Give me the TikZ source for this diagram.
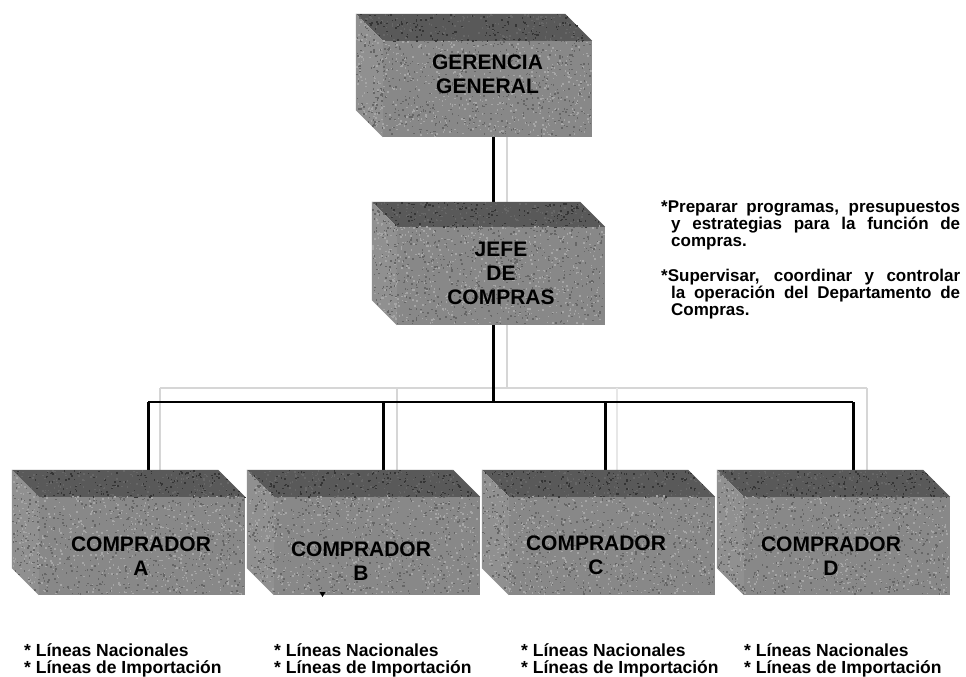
\documentclass[tikz,border=0pt]{standalone}
\usepackage{fontspec}
\setmainfont{Liberation Sans}
\usetikzlibrary{calc}
\pgfdeclarelayer{back}
\pgfsetlayers{back,main}

\definecolor{frontgray}{HTML}{888888}
\definecolor{topgray}{HTML}{595959}
\definecolor{sidegray}{HTML}{909090}
\definecolor{ghostgray}{HTML}{D6D6D6}
\definecolor{speckdark}{HTML}{666666}
\definecolor{specklight}{HTML}{A6A6A6}

% top and left faces of a block, behind the front face node #1, depth #2
\newcommand\blockfaces[2]{%
  \fill[topgray] (#1.north west) -- (#1.north east) -- ++(-#2,-#2)
    -- ($(#1.north west)+(-#2,-#2)$) -- cycle;
  \fill[sidegray] (#1.north west) -- ++(-#2,-#2)
    -- ($(#1.south west)+(-#2,-#2)$) -- (#1.south west) -- cycle;}

% granite-like grain on the faces of block #1 (front width #2, height #3, depth #4)
\newcommand\blockgrain[4]{%
  \foreach \k in {1,...,520}{%
    \fill[speckdark] ($(#1.north west)+(rnd*#2-1.5,rnd*#3-1.5)$) rectangle ++(1.5,1.5);
    \fill[specklight] ($(#1.north west)+(rnd*#2-1.5,rnd*#3-1.5)$) rectangle ++(1.5,1.5);}
  \foreach \k in {1,...,160}{%
    \pgfmathsetmacro\vv{rnd}%
    \fill[topgray!70!frontgray] ($(#1.north west)+(rnd*#2-\vv*#4,-\vv*#4)$) rectangle ++(1.5,1.5);
    \pgfmathsetmacro\vv{rnd}%
    \fill[topgray!60!black] ($(#1.north west)+(rnd*#2-\vv*#4,-\vv*#4)$) rectangle ++(1.5,1.5);}
  \foreach \k in {1,...,90}{%
    \pgfmathsetmacro\vv{rnd}%
    \fill[speckdark] ($(#1.north west)+(-\vv*#4+0.5,-\vv*#4+rnd*#3)$) rectangle ++(1.5,1.5);
    \pgfmathsetmacro\vv{rnd}%
    \fill[specklight] ($(#1.north west)+(-\vv*#4+0.5,-\vv*#4+rnd*#3)$) rectangle ++(1.5,1.5);}}

\tikzset{
  frontbox/.style={fill=frontgray, inner sep=0pt, minimum width=206pt, minimum height=98pt},
  boxlabel/.style={inner sep=0pt, anchor=base, font=\fontsize{21}{24}\selectfont\bfseries},
  notetext/.style={inner sep=0pt, anchor=base west, font=\fontsize{17}{17}\selectfont\bfseries},
  itemtext/.style={inner sep=0pt, anchor=base west, font=\fontsize{17.5}{17}\selectfont\bfseries},
  conn/.style={line width=3pt, black},
  busline/.style={line width=2pt, black},
  ghost/.style={line width=1.5pt, ghostgray}
}

\begin{document}
\begin{tikzpicture}[x=1pt, y=-1pt]
\pgfmathsetseed{4711}
\useasboundingbox (0,0) rectangle (966,677);

% front faces of the blocks
\node[frontbox, minimum width=209pt, minimum height=96pt] (ger) at (487.5,89) {};
\node[frontbox, minimum width=208pt] (jefe) at (501,276) {};
\node[frontbox] (ca) at (142,546) {};
\node[frontbox] (cb) at (377,546) {};
\node[frontbox] (cc) at (612,546) {};
\node[frontbox] (cd) at (847,546) {};

% top and side faces
\blockfaces{ger}{27}
\blockfaces{jefe}{25}
\blockfaces{ca}{27}
\blockfaces{cb}{27}
\blockfaces{cc}{27}
\blockfaces{cd}{27}

% surface grain
\blockgrain{ger}{209}{96}{27}
\blockgrain{jefe}{208}{98}{25}
\blockgrain{ca}{206}{98}{27}
\blockgrain{cb}{206}{98}{27}
\blockgrain{cc}{206}{98}{27}
\blockgrain{cd}{206}{98}{27}

% connector points on the bus
\coordinate (bus) at (493,402);
\coordinate (da) at (148,402);
\coordinate (db) at (383,402);
\coordinate (dc) at (605,402);
\coordinate (dd) at (853,402);
\coordinate (gbus) at (507,388);
\coordinate (ga) at (160,388);
\coordinate (gb) at (397,388);
\coordinate (gc) at (617,388);
\coordinate (gd) at (867,388);

\begin{pgfonlayer}{back}
  \fill[white] (0,0) rectangle (966,677);
  % faint offset copy of the connectors
  \draw[ghost] (gbus |- ger.south) -- (gbus |- jefe.north);
  \draw[ghost] (gbus |- jefe.south) -- (gbus);
  \draw[ghost] (ga) -- (gd);
  \draw[ghost] (ga) -- (ga |- ca.north);
  \draw[ghost] (gb) -- (gb |- cb.north);
  \draw[ghost, ghostgray!60] (gc) -- (gc |- cc.north);
  \draw[ghost] (gd) -- (gd |- cd.north);
  % connectors
  \draw[conn] (bus |- ger.south) -- (bus |- jefe.north);
  \draw[conn] (bus |- jefe.south) -- (bus);
  \draw[busline] (da) -- (dd);
  \draw[conn] (da) -- (da |- ca.north);
  \draw[conn] (db) -- (db |- cb.north);
  \draw[conn] (dc) -- (dc |- cc.north);
  \draw[conn] (dd) -- (dd |- cd.north);
\end{pgfonlayer}

% block labels
\node[boxlabel] (ger-l) at (487.5,70) {\begin{tabular}[t]{@{}c@{}}GERENCIA\\GENERAL\end{tabular}};
\node[boxlabel] (jefe-l) at (501,256.5) {\begin{tabular}[t]{@{}c@{}}JEFE\\DE\\COMPRAS\end{tabular}};
\node[boxlabel] (ca-l) at (141,551.5) {\begin{tabular}[t]{@{}c@{}}COMPRADOR\\A\end{tabular}};
\node[boxlabel] (cb-l) at (361,556.5) {\begin{tabular}[t]{@{}c@{}}COMPRADOR\\B\end{tabular}};
\node[boxlabel] (cc-l) at (596,550.5) {\begin{tabular}[t]{@{}c@{}}COMPRADOR\\C\end{tabular}};
\node[boxlabel] (cd-l) at (831,551) {\begin{tabular}[t]{@{}c@{}}COMPRADOR\\D\end{tabular}};

% small stray mark under block B
\fill (319.5,592) -- (325.5,592) -- (322.5,597) -- cycle;

% duties of the purchasing head
\node[notetext] (duty1) at (661,212) {\begin{tabular}[t]{@{}l@{}}%
  \makebox[299pt][s]{*Preparar programas, presupuestos}\\
  \hspace*{10pt}\makebox[289pt][s]{y estrategias para la función de}\\
  \hspace*{10pt}compras.\end{tabular}};
\node[notetext] (duty2) at (661,281) {\begin{tabular}[t]{@{}l@{}}%
  \makebox[299pt][s]{*Supervisar, coordinar y controlar}\\
  \hspace*{10pt}\makebox[289pt][s]{la operación del Departamento de}\\
  \hspace*{10pt}Compras.\end{tabular}};

% product lines of each buyer
\node[itemtext] (ia) at (24,656) {\begin{tabular}[t]{@{}l@{}}* Líneas Nacionales\\{}* Líneas de Importación\end{tabular}};
\node[itemtext] (ib) at (274,656) {\begin{tabular}[t]{@{}l@{}}* Líneas Nacionales\\{}* Líneas de Importación\end{tabular}};
\node[itemtext] (ic) at (521,656) {\begin{tabular}[t]{@{}l@{}}* Líneas Nacionales\\{}* Líneas de Importación\end{tabular}};
\node[itemtext] (id) at (744,656) {\begin{tabular}[t]{@{}l@{}}* Líneas Nacionales\\{}* Líneas de Importación\end{tabular}};
\end{tikzpicture}
\end{document}
